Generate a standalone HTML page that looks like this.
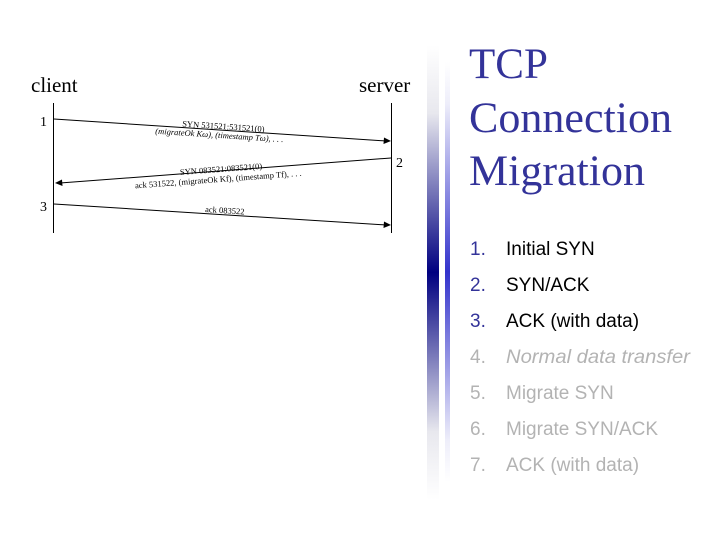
<!DOCTYPE html>
<html><head><meta charset="utf-8"><style>
html,body{margin:0;padding:0;background:#fff;width:719px;height:539px;overflow:hidden}
</style></head><body>
<svg width="719" height="539" viewBox="0 0 719 539" xmlns="http://www.w3.org/2000/svg">
<defs>
<linearGradient id="g1" x1="0" y1="0" x2="0" y2="1">
<stop offset="0" stop-color="#fff"/>
<stop offset="0.15" stop-color="#e8e8ee"/>
<stop offset="0.5" stop-color="#000080"/>
<stop offset="0.85" stop-color="#e8e8ee"/>
<stop offset="1" stop-color="#fff"/>
</linearGradient>
<linearGradient id="g2" x1="0" y1="0" x2="0" y2="1">
<stop offset="0" stop-color="#fff"/>
<stop offset="0.1" stop-color="#eeeefa"/>
<stop offset="0.5" stop-color="#3333cc"/>
<stop offset="0.9" stop-color="#eeeefa"/>
<stop offset="1" stop-color="#fff"/>
</linearGradient>
</defs>
<rect x="427" y="45" width="12" height="455" fill="url(#g1)"/>
<rect x="445" y="62" width="5" height="420" fill="url(#g2)"/>

<g font-family="Liberation Serif, serif" fill="#000">
<text x="31" y="92" font-size="21">client</text>
<text x="359" y="92" font-size="21">server</text>
<text x="40" y="126" font-size="14">1</text>
<text x="396" y="167" font-size="14">2</text>
<text x="40" y="211" font-size="14">3</text>
</g>
<g stroke="#000" stroke-width="1" fill="none">
<line x1="53.5" y1="103" x2="53.5" y2="233"/>
<line x1="391.5" y1="103" x2="391.5" y2="233"/>
<line x1="54" y1="119" x2="386" y2="141"/>
<line x1="391" y1="158" x2="60" y2="183"/>
<line x1="54" y1="204" x2="386" y2="225"/>
</g>
<g fill="#000">
<polygon points="391,141 384,137.5 383.5,144"/>
<polygon points="55,183 62,179.5 62.5,186"/>
<polygon points="391,225 384,221.5 383.5,228"/>
</g>
<g font-family="Liberation Serif, serif" font-size="8.5" fill="#000">
<text x="182" y="129" transform="rotate(3.8 220 129)">SYN 531521:531521(0)</text>
<text x="155" y="138" transform="rotate(3.8 220 138)" font-style="italic">(migrateOk Kω), (timestamp Tω), . . .</text>
<text x="180" y="172" transform="rotate(-4.3 220 172)">SYN 083521:083521(0)</text>
<text x="135" y="182" transform="rotate(-4.3 220 182)">ack 531522, (migrateOk Kf), (timestamp Tf), . . .</text>
<text x="205" y="213" transform="rotate(3.6 220 213)">ack 083522</text>
</g>

<g font-family="Liberation Serif, serif" font-size="43" fill="#333399">
<text x="469" y="78">TCP</text>
<text x="469" y="132" textLength="203" lengthAdjust="spacingAndGlyphs">Connection</text>
<text x="469" y="185" textLength="176" lengthAdjust="spacingAndGlyphs">Migration</text>
</g>
<g font-family="Liberation Sans, sans-serif" font-size="19">
<text x="470" y="255" fill="#333399">1.</text><text x="506" y="255" fill="#000">Initial SYN</text>
<text x="470" y="291" fill="#333399">2.</text><text x="506" y="291" fill="#000">SYN/ACK</text>
<text x="470" y="327" fill="#333399">3.</text><text x="506" y="327" fill="#000">ACK (with data)</text>
<text x="470" y="363" fill="#b3b3b3">4.</text><text x="506" y="363" fill="#b3b3b3" font-style="italic" textLength="184" lengthAdjust="spacingAndGlyphs">Normal data transfer</text>
<text x="470" y="399" fill="#b3b3b3">5.</text><text x="506" y="399" fill="#b3b3b3">Migrate SYN</text>
<text x="470" y="435" fill="#b3b3b3">6.</text><text x="506" y="435" fill="#b3b3b3">Migrate SYN/ACK</text>
<text x="470" y="471" fill="#b3b3b3">7.</text><text x="506" y="471" fill="#b3b3b3">ACK (with data)</text>
</g>
</svg>
</body></html>
